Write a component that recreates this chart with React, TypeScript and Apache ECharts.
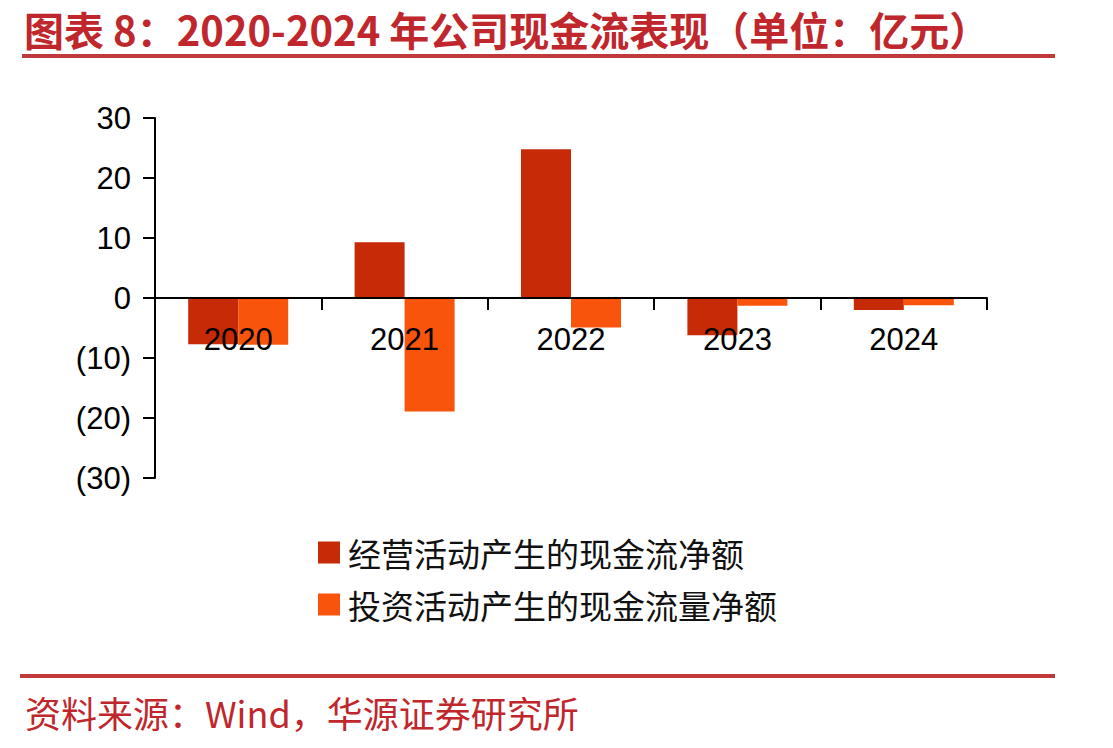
import React, { useEffect, useRef } from "react";
import * as echarts from "echarts";

const categories = ["2020", "2021", "2022", "2023", "2024"];
const operatingCF = [-7.7, 9.3, 24.8, -6.2, -2.0];
const investingCF = [-7.8, -18.9, -4.9, -1.3, -1.2];
const seriesNames = ["经营活动产生的现金流净额", "投资活动产生的现金流量净额"];
const titleText = "图表 8：2020-2024 年公司现金流表现（单位：亿元）";
const sourceText = "资料来源：Wind，华源证券研究所";

export default function App() {
  const ref = useRef<HTMLDivElement>(null);
  useEffect(() => {
    document.body.style.margin = "0";
    const chart = echarts.init(ref.current!, null, { renderer: "svg" });
    chart.setOption({
      animation: false,
      backgroundColor: "#ffffff",
      grid: { left: 155, right: 126, top: 118, bottom: 270, containLabel: false },
      legend: {
        orient: "vertical",
        left: 313,
        top: 531,
        itemWidth: 22,
        itemHeight: 22,
        itemGap: 19,
        icon: "rect",
        textStyle: { fontSize: 33, color: "#111", fontFamily: "Noto Sans CJK SC", padding: [0, 0, 0, 3] },
        data: seriesNames,
      },
      xAxis: {
        type: "category",
        data: categories,
        z: 10,
        offset: -180,
        axisLine: { onZero: false, lineStyle: { color: "#000", width: 2 } },
        axisTick: { show: true, length: 12, lineStyle: { color: "#000", width: 2 } },
        axisLabel: { fontSize: 31, color: "#000", fontFamily: "Liberation Sans", margin: 26 },
      },
      yAxis: {
        type: "value",
        min: -30,
        max: 30,
        interval: 10,
        splitLine: { show: false },
        axisLine: { show: true, lineStyle: { color: "#000", width: 2 } },
        axisTick: { show: true, length: 12, lineStyle: { color: "#000", width: 2 } },
        axisLabel: {
          fontSize: 31,
          color: "#000",
          fontFamily: "Liberation Sans",
          margin: 24,
          formatter: (v: number) => (v < 0 ? `(${Math.abs(v)})` : `${v}`),
        },
      },
      series: [
        {
          name: seriesNames[0],
          type: "bar",
          data: operatingCF,
          barWidth: 50,
          barGap: "0%",
          itemStyle: { color: "#C72A06" },
        },
        {
          name: seriesNames[1],
          type: "bar",
          data: investingCF,
          barWidth: 50,
          barGap: "0%",
          itemStyle: { color: "#F9540B" },
        },
      ],
      graphic: [
        {
          type: "text",
          left: 24,
          top: 8,
          style: {
            text: titleText,
            fontSize: 40,
            lineHeight: 42,
            fontWeight: "bold",
            fontFamily: "Noto Sans CJK SC",
            fill: "#C0272D",
          },
        },
        {
          type: "rect",
          shape: { x: 22, y: 54, width: 1033, height: 4 },
          style: { fill: "#C0393B" },
        },
        {
          type: "rect",
          shape: { x: 20, y: 674, width: 1035, height: 4 },
          style: { fill: "#C0393B" },
        },
        {
          type: "text",
          left: 25,
          top: 692,
          style: {
            text: sourceText,
            fontSize: 36,
            lineHeight: 40,
            fontFamily: "Noto Sans CJK SC",
            fill: "#C0272D",
          },
        },
      ],
    });
    return () => chart.dispose();
  }, []);
  return <div ref={ref} style={{ width: 1113, height: 748 }} />;
}
